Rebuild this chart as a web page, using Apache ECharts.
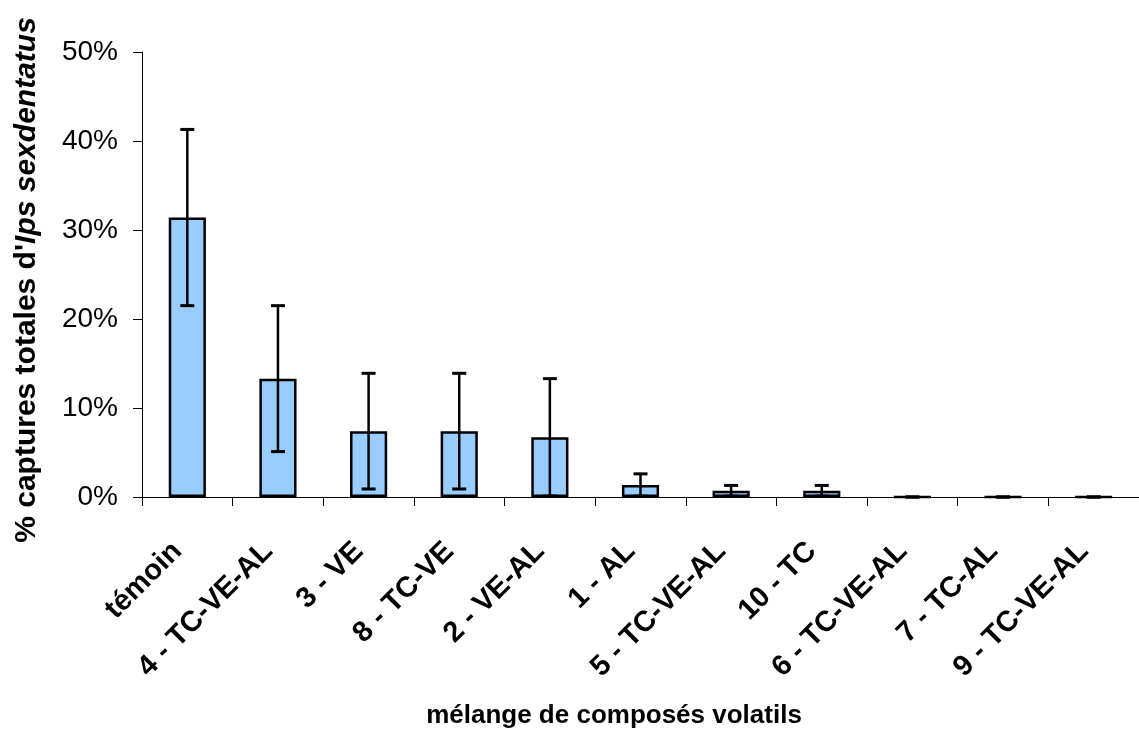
<!DOCTYPE html>
<html><head><meta charset="utf-8">
<script src="https://cdn.jsdelivr.net/npm/echarts@6/dist/echarts.min.js"></script>
<style>html,body{margin:0;padding:0;background:#fff}#c{width:1139px;height:729px}</style>
</head><body><div id="c"></div>
<script>
const categories = ['témoin','4 - TC-VE-AL','3 - VE','8 - TC-VE','2 - VE-AL','1 - AL','5 - TC-VE-AL','10 - TC','6 - TC-VE-AL','7 - TC-AL','9 - TC-VE-AL'];
const means = [31.4, 13.3, 7.4, 7.4, 6.7, 1.35, 0.7, 0.7, 0, 0, 0];
const errors = [9.9, 8.2, 6.5, 6.5, 6.6, 1.25, 0.6, 0.6, 0, 0, 0];
const yTicks = [0, 10, 20, 30, 40, 50];

const chart = echarts.init(document.getElementById('c'));
const errData = means.map((m, i) => [i, Math.max(0, m - errors[i]), m + errors[i]]);
const font = 'Liberation Sans, Arial, sans-serif';
chart.setOption({
  animation: false,
  grid: { left: 142, right: -9, top: 52, bottom: 232, containLabel: false },
  xAxis: {
    type: 'category', data: categories,
    axisLine: { lineStyle: { color: '#000', width: 1 } },
    axisTick: { show: true, length: 9, lineStyle: { color: '#000' } },
    axisLabel: { rotate: 45, interval: 0, margin: 40, padding: [0, 14, 0, 0], color: '#000', fontFamily: font, fontWeight: 'bold', fontSize: 29 },
    splitLine: { show: false }
  },
  yAxis: {
    type: 'value', min: yTicks[0], max: yTicks[yTicks.length - 1], interval: 10,
    axisLine: { show: true, lineStyle: { color: '#000', width: 1 } },
    axisTick: { show: true, length: 9, lineStyle: { color: '#000' } },
    axisLabel: { formatter: v => v + '%', margin: 24, color: '#000', fontFamily: font, fontSize: 28 },
    splitLine: { show: false }
  },
  graphic: [
    { type: 'text', x: 27, y: 280, rotation: Math.PI / 2, style: {
      text: "{b|% captures totales d'}{i|Ips sexdentatus}", align: 'center', verticalAlign: 'middle',
      rich: { b: { fontFamily: font, fontWeight: 'bold', fontSize: 30, fill: '#000' },
              i: { fontFamily: font, fontWeight: 'bold', fontStyle: 'italic', fontSize: 30, fill: '#000' } } } },
    { type: 'text', x: 614, y: 716, style: { text: 'mélange de composés volatils', align: 'center', verticalAlign: 'middle',
      fontFamily: font, fontWeight: 'bold', fontSize: 26, fill: '#000' } }
  ],
  series: [
    { type: 'bar', data: means, barWidth: '41%',
      itemStyle: { color: '#99ccff', borderColor: '#000', borderWidth: 2.5 } },
    { type: 'custom', data: errData, z: 10,
      renderItem: function (params, api) {
        const x = api.value(0);
        const lo = api.coord([x, api.value(1)]);
        const hi = api.coord([x, api.value(2)]);
        const hw = 7;
        const st = { stroke: '#000', lineWidth: 3 };
        return { type: 'group', children: [
          { type: 'line', shape: { x1: lo[0], y1: lo[1], x2: hi[0], y2: hi[1] }, style: { stroke: '#000', lineWidth: 2.5 } },
          { type: 'line', shape: { x1: hi[0] - hw, y1: hi[1], x2: hi[0] + hw, y2: hi[1] }, style: st },
          { type: 'line', shape: { x1: lo[0] - hw, y1: lo[1], x2: lo[0] + hw, y2: lo[1] }, style: st }
        ] };
      } }
  ]
});
</script></body></html>
